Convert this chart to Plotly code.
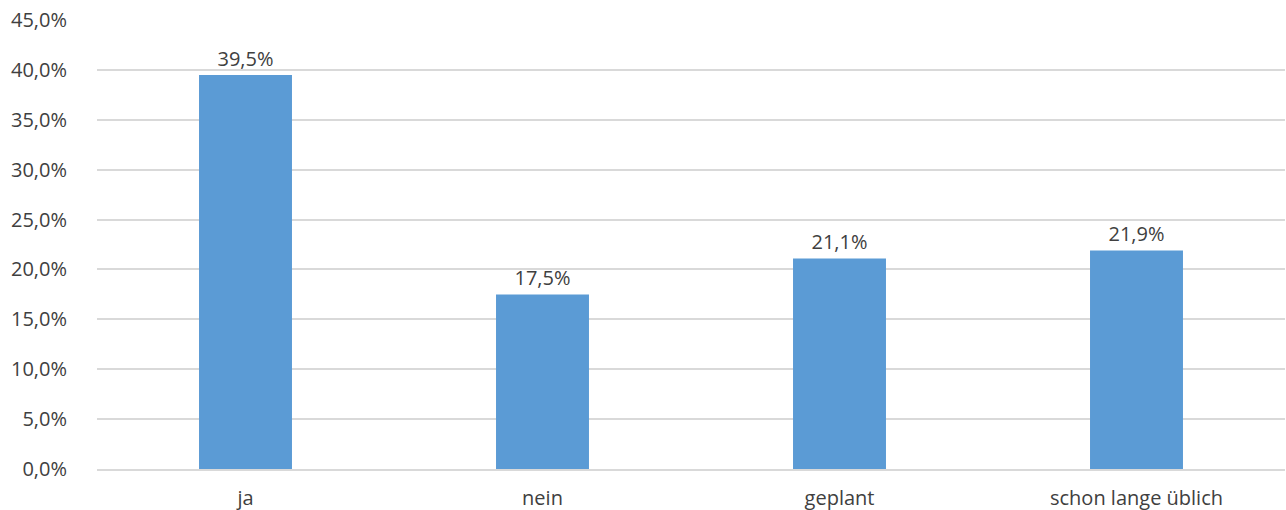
import plotly.graph_objects as go

categories = ["ja", "nein", "geplant", "schon lange üblich"]
shares = [0.395, 0.175, 0.211, 0.219]
y_ticks = [0, 0.05, 0.10, 0.15, 0.20, 0.25, 0.30, 0.35, 0.40, 0.45]

FONT = "Open Sans"
TEXT = "#404040"
BAR = "#5b9bd5"
GRID = "#d9d9d9"
SIZE = 20

fig = go.Figure(
    go.Bar(
        x=categories,
        y=shares,
        marker=dict(color=BAR, line=dict(width=0)),
        texttemplate="%{y:.1%}",
        textposition="outside",
        textfont=dict(family=FONT, size=SIZE, color=TEXT),
        cliponaxis=False,
    )
)

fig.update_layout(
    width=1286,
    height=510,
    margin=dict(l=97, r=1, t=20, b=41),
    paper_bgcolor="white",
    plot_bgcolor="white",
    separators=",.",
    bargap=0.687,
    showlegend=False,
    font=dict(family=FONT, size=SIZE, color=TEXT),
)

fig.update_xaxes(
    automargin=False,
    showgrid=False,
    showline=True,
    linecolor=GRID,
    linewidth=2,
    ticks="outside",
    ticklen=10,
    tickcolor="rgba(0,0,0,0)",
    tickfont=dict(family=FONT, size=SIZE, color=TEXT),
)

fig.update_yaxes(
    automargin=False,
    range=[0, 0.45],
    tickvals=y_ticks,
    tickformat=".1%",
    showgrid=True,
    gridcolor=GRID,
    gridwidth=2,
    zeroline=False,
    showline=False,
    ticks="outside",
    ticklen=25,
    tickcolor="rgba(0,0,0,0)",
    tickfont=dict(family=FONT, size=SIZE, color=TEXT),
)

fig.write_html("out.html")
